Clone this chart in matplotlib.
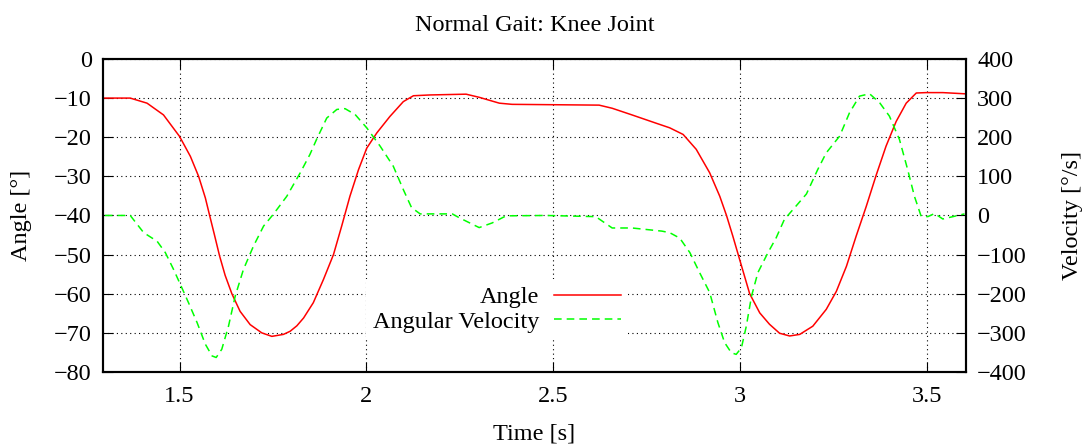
import numpy as np
import matplotlib
matplotlib.use('Agg')
import matplotlib.pyplot as plt

# knee angle [deg] vs time [s]
t_angle = [1.300, 1.368, 1.413, 1.457, 1.500, 1.529, 1.551, 1.569, 1.580, 1.593,
           1.607, 1.622, 1.640, 1.662, 1.689, 1.720, 1.747, 1.778, 1.796, 1.814,
           1.832, 1.858, 1.885, 1.912, 1.934, 1.956, 1.979, 2.001, 2.028, 2.063,
           2.099, 2.126, 2.170, 2.267, 2.302, 2.356, 2.390, 2.623, 2.658, 2.711,
           2.775, 2.812, 2.848, 2.883, 2.919, 2.946, 2.964, 2.981, 2.999, 3.026,
           3.053, 3.079, 3.106, 3.133, 3.160, 3.195, 3.231, 3.258, 3.285, 3.311,
           3.338, 3.365, 3.391, 3.418, 3.445, 3.472, 3.498, 3.543, 3.601]
angle = [-10.0, -10.0, -11.3, -14.3, -19.8, -24.9, -30.0, -35.5, -39.8, -44.8,
         -50.3, -55.3, -60.0, -64.5, -67.9, -70.0, -70.9, -70.4, -69.6, -68.2,
         -66.2, -62.3, -56.4, -50.0, -42.7, -35.1, -28.3, -22.8, -18.9, -14.7,
         -10.9, -9.4, -9.2, -9.0, -9.8, -11.3, -11.6, -11.8, -12.6, -14.3,
         -16.4, -17.6, -19.3, -23.1, -29.1, -35.1, -40.0, -45.3, -51.2, -60.0,
         -64.9, -67.8, -70.1, -70.8, -70.4, -68.3, -64.0, -59.4, -53.0, -45.3,
         -37.7, -29.6, -22.3, -16.0, -11.3, -8.7, -8.6, -8.6, -8.9]

# angular velocity [deg/s]
t_vel = [1.300, 1.368, 1.404, 1.440, 1.462, 1.484, 1.502, 1.524, 1.547, 1.569,
         1.587, 1.598, 1.613, 1.631, 1.649, 1.671, 1.698, 1.725, 1.751, 1.787,
         1.823, 1.849, 1.867, 1.894, 1.921, 1.943, 1.970, 2.001, 2.037, 2.072,
         2.099, 2.121, 2.144, 2.230, 2.249, 2.302, 2.337, 2.374, 2.480, 2.614,
         2.658, 2.711, 2.791, 2.812, 2.839, 2.866, 2.892, 2.919, 2.941, 2.959,
         2.977, 2.990, 3.004, 3.017, 3.031, 3.048, 3.075, 3.097, 3.119, 3.151,
         3.178, 3.208, 3.231, 3.267, 3.293, 3.320, 3.347, 3.374, 3.400, 3.427,
         3.449, 3.467, 3.485, 3.503, 3.521, 3.543, 3.570, 3.601]
velocity = [0, 0, -44, -66, -95, -138, -176, -223, -274, -329,
            -359, -363, -342, -283, -206, -138, -78, -27, 3, 49,
            109, 156, 195, 249, 271, 273, 258, 224, 177, 126,
            66, 20, 4, 4, -6, -31, -19, -1, 0, -3,
            -32, -32, -40, -44, -58, -95, -146, -197, -274, -325,
            -351, -355, -338, -283, -206, -146, -95, -57, -10, 25,
            55, 117, 160, 203, 262, 305, 311, 288, 254, 194,
            117, 49, -2, -3, 5, -9, -3, 4]

plt.rcParams['font.family'] = ['Liberation Serif', 'DejaVu Serif']
plt.rcParams['font.size'] = 17.5

fig = plt.figure(figsize=(10.85, 4.46), dpi=100)
ax = fig.add_axes([0.0949, 0.166, 0.7954, 0.7018])
ax2 = ax.twinx()

l1, = ax.plot(t_angle, angle, color='#ff0000', lw=1.1, label='Angle', zorder=2)
l2, = ax2.plot(t_vel, velocity, color='#00ff00', lw=1.1, ls=(0, (5, 3.3)),
               label='Angular Velocity')

ax.set_xlim(1.295, 3.605)
ax.set_ylim(-80, 0)
ax2.set_ylim(-400, 400)
ax.set_xticks([1.5, 2, 2.5, 3, 3.5])
ax.set_xticklabels(['1.5', '2', '2.5', '3', '3.5'])
ax.set_yticks(range(-80, 1, 10))
ax2.set_yticks(range(-400, 401, 100))
ax.set_yticklabels(['\u221280', '\u221270', '\u221260', '\u221250', '\u221240',
                    '\u221230', '\u221220', '\u221210', '0'])
ax2.set_yticklabels(['\u2212400', '\u2212300', '\u2212200', '\u2212100', '0',
                     '100', '200', '300', '400'])

ax.grid(True, color='black', ls=(0, (1, 3)), lw=0.8)
ax.tick_params(axis='x', direction='in', top=True, length=7, pad=10)
ax.tick_params(axis='y', direction='in', length=7, pad=8)
ax2.tick_params(axis='y', direction='in', length=7, pad=8)
for a in (ax, ax2):
    for s in a.spines.values():
        s.set_linewidth(1.5)

ax.set_title('Normal Gait: Knee Joint', fontsize=17.5, pad=20)
ax.set_xlabel('Time [s]', labelpad=12)
ax.set_ylabel('Angle [\u00b0]', labelpad=16)
ax2.set_ylabel('Velocity [\u00b0/s]', labelpad=25)

# key sits above the grid but under the curves
leg = ax.legend(handles=[l1, l2], loc='upper right',
                bbox_to_anchor=(0.590, 0.402), bbox_transform=fig.transFigure,
                frameon=True, markerfirst=False, handlelength=2.75,
                borderpad=0.3, labelspacing=0.1, handletextpad=0.6,
                fontsize=17.5, framealpha=1, fancybox=False)
leg.get_frame().set_edgecolor('none')
leg.set_zorder(1.8)

fig.savefig('out.png', dpi=100)
